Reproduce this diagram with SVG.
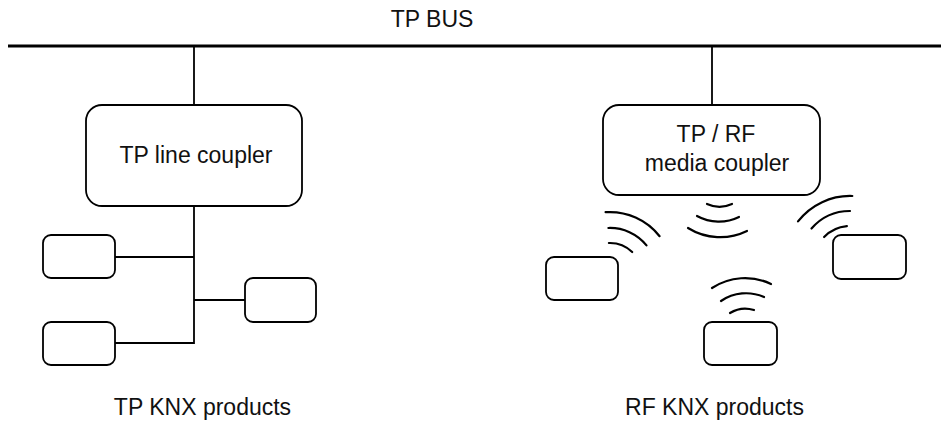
<svg xmlns="http://www.w3.org/2000/svg" width="949" height="425" viewBox="0 0 949 425">
<style>
.box{fill:#fff;stroke:#000;stroke-width:1.8}
.ln{fill:none;stroke:#000;stroke-width:1.8}
.bus{fill:none;stroke:#000;stroke-width:3}
.wave{fill:none;stroke:#000;stroke-width:2.2;stroke-linecap:round}
.t{font-family:"Liberation Sans",Arial,Helvetica,sans-serif;font-size:23px;fill:#111;text-anchor:middle}
</style>
<rect width="949" height="425" fill="#fff"/>
<g id="connectors">
<line class="bus" x1="8" y1="46" x2="941" y2="46"/>
<line class="ln" x1="194" y1="46" x2="194" y2="105"/>
<line class="ln" x1="712" y1="46" x2="712" y2="105"/>
<polyline class="ln" points="194,206 194,343 115,343"/>
<line class="ln" x1="115" y1="257" x2="194" y2="257"/>
<line class="ln" x1="194" y1="300" x2="245" y2="300"/>
</g>
<g id="bus-label"><text class="t" x="432" y="27">TP BUS</text></g>
<g id="tp-line-coupler">
<rect class="box" x="86" y="105" width="216" height="101" rx="16"/>
<text class="t" x="196" y="163">TP line coupler</text>
</g>
<g id="media-coupler">
<rect class="box" x="603" y="105" width="217" height="90" rx="16"/>
<text class="t" x="716" y="142">TP / RF</text>
<text class="t" x="717" y="171">media coupler</text>
</g>
<g id="tp-device-1"><rect class="box" x="43" y="235" width="72" height="43" rx="8"/></g>
<g id="tp-device-2"><rect class="box" x="43" y="322" width="72" height="43" rx="8"/></g>
<g id="tp-device-3"><rect class="box" x="245" y="278" width="71" height="44" rx="8"/></g>
<g id="rf-device-1"><rect class="box" x="546" y="257" width="72" height="43" rx="8"/></g>
<g id="rf-device-2"><rect class="box" x="704" y="322" width="73" height="43" rx="8"/></g>
<g id="rf-device-3"><rect class="box" x="833" y="235" width="73" height="44" rx="8"/></g>
<g id="waves">
<path class="wave" d="M605.6,212.2 A63,63 0 0 1 659.6,236.2"/>
<path class="wave" d="M608.4,228 A47,47 0 0 1 646.5,245.4"/>
<path class="wave" d="M608.9,243 A32,32 0 0 1 632.2,252"/>
<path class="wave" d="M707,204 A30,30 0 0 0 732,204"/>
<path class="wave" d="M697,216 A45.5,45.5 0 0 0 739,217"/>
<path class="wave" d="M688,228 A61,61 0 0 0 747,231"/>
<path class="wave" d="M798,221.4 A66,66 0 0 1 852.3,196"/>
<path class="wave" d="M811.5,228.5 A51,51 0 0 1 850,211"/>
<path class="wave" d="M824.1,237 A36,36 0 0 1 846.9,226.1"/>
<path class="wave" d="M712,288 A60,60 0 0 1 771,284"/>
<path class="wave" d="M721,301 A44.5,44.5 0 0 1 764,297"/>
<path class="wave" d="M730,313 A29,29 0 0 1 754,310"/>
</g>
<g id="labels">
<text class="t" x="202.5" y="415">TP KNX products</text>
<text class="t" x="714.5" y="415">RF KNX products</text>
</g>
</svg>
